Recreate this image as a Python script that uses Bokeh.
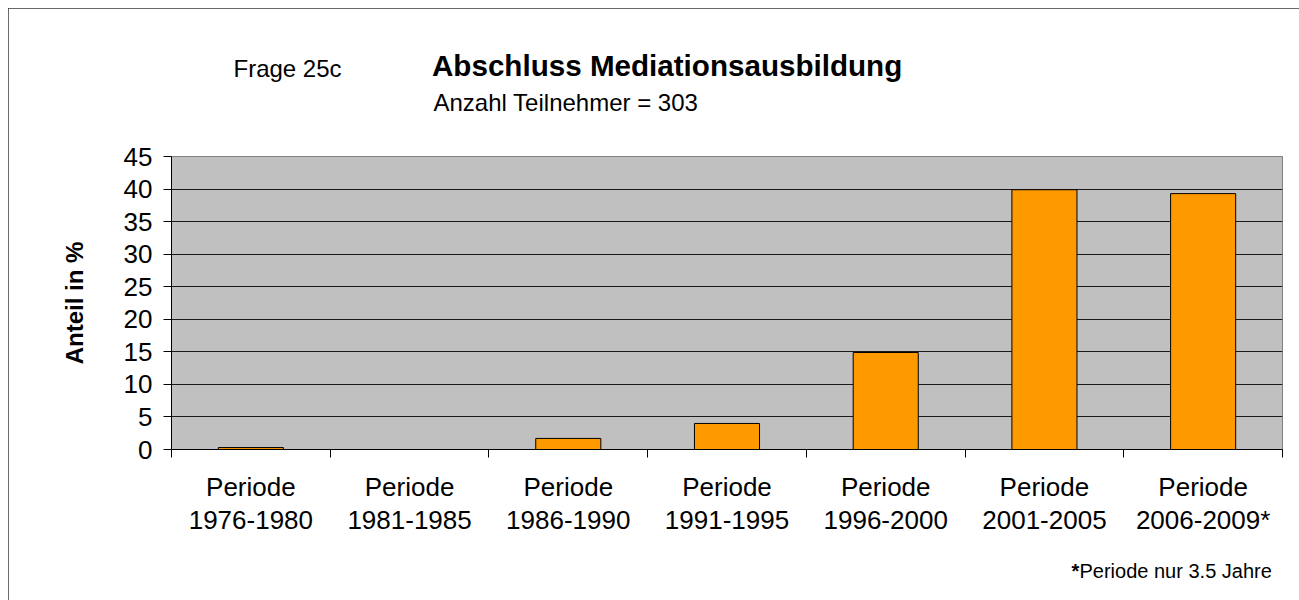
from bokeh.plotting import figure
from bokeh.models import Range1d, FixedTicker, Label, ColumnDataSource
from bokeh.embed import file_html
from bokeh.resources import INLINE

# ---- data ----
categories = ["Periode\n1976-1980", "Periode\n1981-1985", "Periode\n1986-1990",
              "Periode\n1991-1995", "Periode\n1996-2000", "Periode\n2001-2005",
              "Periode\n2006-2009*"]
values = [0.3, 0.0, 1.7, 4.0, 14.9, 39.9, 39.3]
y_ticks = [0, 5, 10, 15, 20, 25, 30, 35, 40, 45]

title_text = "Abschluss Mediationsausbildung"
question_text = "Frage 25c"
subtitle_text = "Anzahl Teilnehmer = 303"
footnote_star = "*"
footnote_text = "Periode nur 3.5 Jahre"
y_label = "Anteil in %"

FONT = "Liberation Sans"

# ---- layout ----
W, H = 1291, 592
ML, MR, MT, MB = 163, 17, 148, 151
n = len(categories)
YMAX = 45

positions = [i + 0.5 for i in range(n)]
boundaries = list(range(n + 1))

p = figure(width=W, height=H, output_backend="svg", toolbar_location=None,
           x_range=Range1d(0, n), y_range=Range1d(0, YMAX),
           min_border_left=ML, min_border_right=MR,
           min_border_top=MT, min_border_bottom=MB)
p.margin = (8, 0, 0, 8)
p.styles = {"outline": "2px solid #383838", "outline-offset": "-2px"}
p.background_fill_color = "#C0C0C0"
p.border_fill_color = "white"
p.outline_line_color = "#808080"
p.outline_line_width = 1

src = ColumnDataSource(dict(x=positions, top=values))
p.vbar(x="x", top="top", bottom=0, width=0.41, source=src,
       fill_color="#FF9900", line_color="black", line_width=1)

# grid
p.xgrid.visible = False
p.ygrid.ticker = FixedTicker(ticks=y_ticks)
p.ygrid.grid_line_color = "#1a1a1a"
p.ygrid.grid_line_width = 1

# y axis
ya = p.yaxis[0]
ya.ticker = FixedTicker(ticks=y_ticks)
ya.axis_line_color = "black"
ya.major_tick_out = 8
ya.major_tick_in = 0
ya.minor_tick_out = 0
ya.minor_tick_in = 0
ya.major_tick_line_color = "black"
ya.major_label_text_font = FONT
ya.major_label_text_font_size = "26px"
ya.major_label_text_color = "black"
ya.major_label_standoff = 11
ya.axis_label = y_label
ya.axis_label_text_font = FONT
ya.axis_label_text_font_size = "24px"
ya.axis_label_text_font_style = "bold"
ya.axis_label_text_color = "black"
ya.axis_label_standoff = 33

# x axis: labels at centres, ticks at category boundaries
xa = p.xaxis[0]
xa.ticker = FixedTicker(ticks=positions, minor_ticks=boundaries)
xa.major_label_overrides = {pos: lab for pos, lab in zip(positions, categories)}
xa.axis_line_color = "black"
xa.major_tick_out = 0
xa.major_tick_in = 0
xa.minor_tick_out = 8
xa.minor_tick_in = 0
xa.minor_tick_line_color = "black"
xa.major_label_text_font = FONT
xa.major_label_text_font_size = "26px"
xa.major_label_text_color = "black"
xa.major_label_text_line_height = 1.1
xa.major_label_standoff = 14

# ---- texts, placed in canvas pixels (figure origin at page (8, 8)) ----
def add_text(px, py, text, size, panel, bold=False):
    p.add_layout(Label(x=px - 8, y=py - 8, x_units="canvas", y_units="canvas",
                       text=text, text_font=FONT, text_font_size=size,
                       text_font_style="bold" if bold else "normal",
                       text_color="black", text_baseline="alphabetic"), panel)

add_text(233, 68, question_text, "24px", "above")
add_text(431.5, 65, title_text, "29.6px", "above", bold=True)
add_text(433, 101.5, subtitle_text, "24px", "above")
add_text(1071, 570, footnote_star, "20px", "left", bold=True)
add_text(1079, 570, footnote_text, "20px", "below")

open("out.html", "w").write(file_html(p, INLINE))
